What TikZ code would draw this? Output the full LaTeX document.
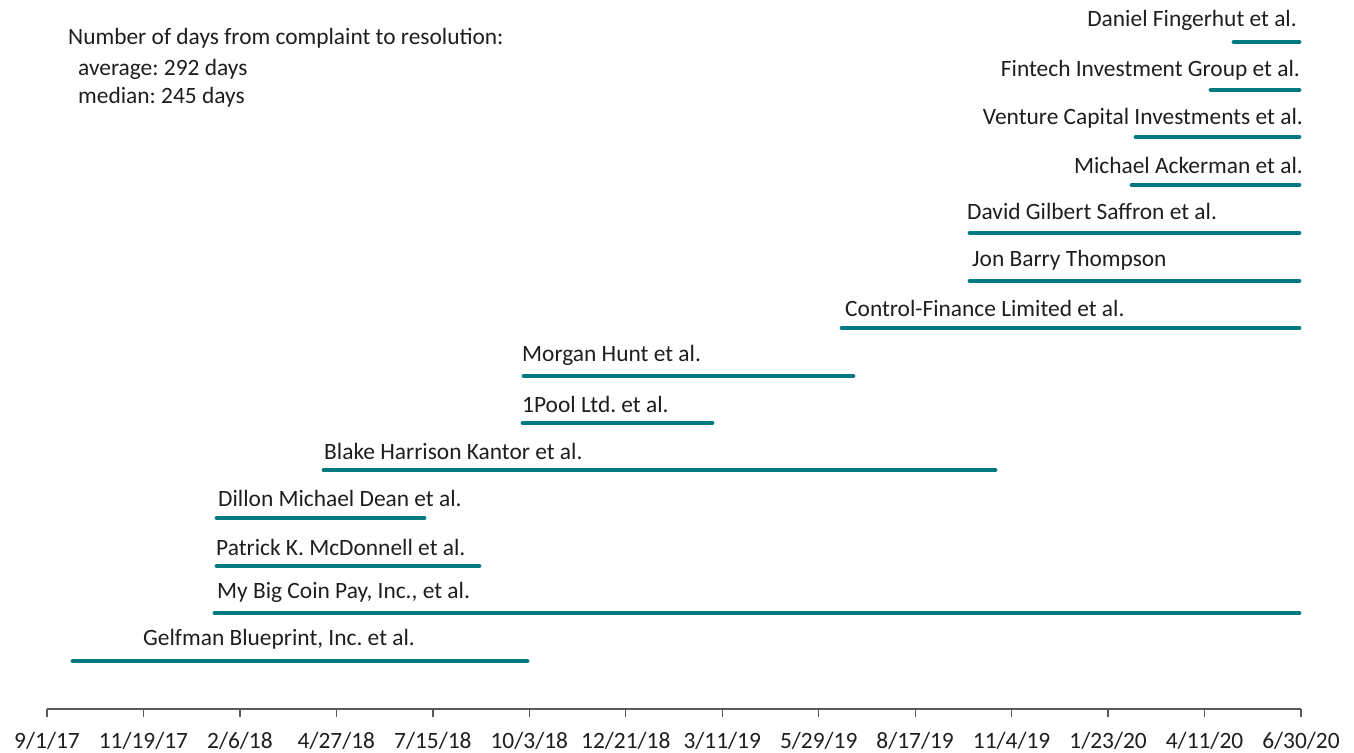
\documentclass[tikz,border=0pt]{standalone}
\usepackage{fontspec}
\setmainfont{Carlito}
\frenchspacing
\definecolor{teal1}{RGB}{0,122,128}
\definecolor{txt}{RGB}{30,30,30}
\definecolor{axisc}{RGB}{89,89,89}
\begin{document}
\begin{tikzpicture}[x=1pt,y=-1pt,
  lbl/.style={inner sep=0pt,text=txt,font=\fontsize{23.4}{28}\selectfont},
  bar/.style={draw=teal1,line width=4.8pt,line cap=round},
  axisline/.style={draw=axisc,line width=1.5pt},
  tickmark/.style={draw=axisc,line width=1.3pt},
  ticklbl/.style={inner sep=0pt,text=txt,font=\fontsize{23.4}{28}\selectfont,anchor=base}]
\useasboundingbox (0,0) rectangle (1354,752);
% summary text
\node[lbl,anchor=base west] (s1) at (68,45) {Number of days from complaint to resolution:};
\node[lbl,anchor=base west] (s2) at (78,75) {average: 292 days};
\node[lbl,anchor=base west] (s3) at (78,103) {median: 245 days};
% bars: name / y / x1 / x2
\foreach \n/\y/\a/\b in {
  dan/42/1234/1299, fin/90/1211/1299, ven/137/1136/1299, ack/185/1132/1299,
  dav/233/970/1299, jon/281/970/1299, con/328/842/1299, mor/376/524/853,
  poo/423/523/712, bla/470/324/995, dil/518/217/424, pat/566/217/479,
  mbc/613/215/1299, gel/661/73/527}{
  \coordinate (\n-s) at (\a,\y);
  \coordinate (\n-e) at (\b,\y);
  \draw[bar] (\n-s) -- (\n-e);
}
% right-aligned labels
\node[lbl,anchor=base east] (ldan) at (1297,27) {Daniel Fingerhut et al.};
\node[lbl,anchor=base east] (lfin) at (1300,76) {Fintech Investment Group et al.};
\node[lbl,anchor=base east] (lven) at (1303,124) {Venture Capital Investments et al.};
\node[lbl,anchor=base east] (lack) at (1303,173) {Michael Ackerman et al.};
% left-aligned labels
\node[lbl,anchor=base west] (ldav) at (967,219) {David Gilbert Saffron et al.};
\node[lbl,anchor=base west] (ljon) at (972,266) {Jon Barry Thompson};
\node[lbl,anchor=base west] (lcon) at (845,316) {Control-Finance Limited et al.};
\node[lbl,anchor=base west] (lmor) at (522,361) {Morgan Hunt et al.};
\node[lbl,anchor=base west] (lpoo) at (522,412) {1Pool Ltd. et al.};
\node[lbl,anchor=base west] (lbla) at (324,459) {Blake Harrison Kantor et al.};
\node[lbl,anchor=base west] (ldil) at (218,506) {Dillon Michael Dean et al.};
\node[lbl,anchor=base west] (lpat) at (216,555) {Patrick K. McDonnell et al.};
\node[lbl,anchor=base west] (lmbc) at (217,598) {My Big Coin Pay, Inc., et al.};
\node[lbl,anchor=base west] (lgel) at (143,645) {Gelfman Blueprint, Inc. et al.};
% axis
\coordinate (ax0) at (47,709);
\coordinate (ax1) at (1301,709);
\draw[axisline] (ax0) -- (ax1);
\foreach \i/\t in {0/9\slash1\slash17,1/11\slash19\slash17,2/2\slash6\slash18,3/4\slash27\slash18,
  4/7\slash15\slash18,5/10\slash3\slash18,6/12\slash21\slash18,7/3\slash11\slash19,
  8/5\slash29\slash19,9/8\slash17\slash19,10/11\slash4\slash19,11/1\slash23\slash20,
  12/4\slash11\slash20,13/6\slash30\slash20}{
  \coordinate (t\i) at ({47+\i*1254/13},709);
  \draw[tickmark] (t\i) -- ++(0,8);
  \node[ticklbl] (tl\i) at ({47+\i*1254/13},748) {\t};
}
\end{tikzpicture}
\end{document}
